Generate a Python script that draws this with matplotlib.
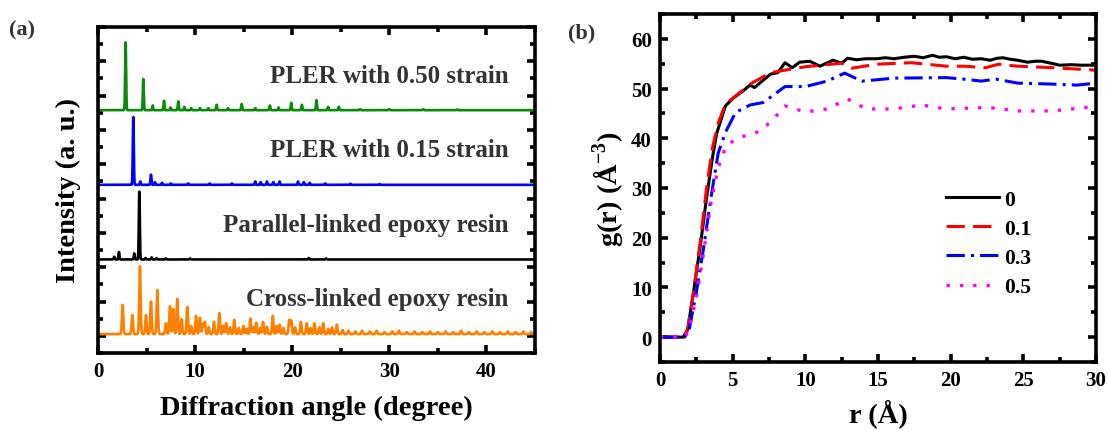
import numpy as np
import matplotlib
matplotlib.use("Agg")
import matplotlib.pyplot as plt
from matplotlib.ticker import MultipleLocator

plt.rcParams['font.family'] = ['Liberation Serif', 'DejaVu Serif']
plt.rcParams['font.weight'] = 'bold'
plt.rcParams['axes.labelweight'] = 'bold'
plt.rcParams['mathtext.fontset'] = 'custom'
plt.rcParams['mathtext.rm'] = 'Liberation Serif:bold'
plt.rcParams['mathtext.bf'] = 'Liberation Serif:bold'

# ---- (a) diffraction peaks: position (degree), relative intensity (max = 100)
green_pos = [2.85, 4.67, 5.63, 6.80, 7.48, 8.27, 8.89, 9.6, 10.5, 11.36, 12.22, 13.4,
             14.8, 16.2, 17.7, 18.6, 19.9, 21.0, 22.5, 23.7, 24.8, 27.0, 30.0, 33.5, 37.0]
green_int = [100, 46, 7, 14, 4, 13, 5, 3, 3, 3, 8, 3,
             9, 3, 7, 4, 11, 8, 15, 5, 5, 1.5, 1.5, 1.5, 1]

blue_pos = [3.64, 4.36, 5.46, 5.87, 6.6, 7.5, 9.3, 11.5, 13.8, 16.2, 16.75, 17.4,
            18.06, 18.7, 20.6, 21.2, 21.8, 23.4, 26.0, 29.0]
blue_int = [100, 5, 15, 4, 3, 2, 2, 2, 2, 5, 4, 5,
            4, 5, 5, 4, 3, 2, 1.5, 1]

black_pos = [1.68, 2.16, 3.74, 4.26, 4.9, 5.53, 6.04, 7.0, 9.5, 21.7, 23.5]
black_int = [4, 11, 9, 100, 2, 3, 2, 1.5, 1.5, 2, 1.5]

orange_pos = [2.54, 3.54, 4.32, 4.94, 5.46, 6.11, 7.0, 7.42, 7.76, 8.17,
              8.62, 9.2, 9.6, 10.1, 10.5, 10.8, 11.0, 11.4, 11.95, 12.5,
              12.9, 13.2, 13.6, 14.04, 14.5, 14.97, 15.3, 15.7, 16.0, 16.3,
              16.7, 17.0, 17.4, 18.0, 18.4, 18.7, 19.1, 19.7, 19.9, 20.3,
              20.9, 21.5, 21.9, 22.3, 22.8, 23.2, 23.7, 24.1, 24.6, 25.2,
              25.8, 26.5, 27.2, 28.0, 28.7, 29.5, 30.3, 31.0, 31.8, 32.6,
              33.4, 34.2, 35.0, 35.8, 36.6, 37.4, 38.2, 39.0, 39.8, 40.6,
              41.4, 42.2, 43.0, 43.8, 44.6]
orange_int = [43, 28, 100, 28, 48, 65, 16, 41, 37, 52,
              22, 40, 12, 27, 24, 15, 18, 10, 18, 31,
              12, 16, 10, 21, 9, 12, 8, 23, 10, 17,
              9, 18, 11, 27, 12, 14, 9, 21, 20, 10,
              18, 16, 9, 16, 10, 16, 8, 10, 14, 6,
              5, 4, 5, 4, 5, 3, 4, 5, 3, 4,
              3, 4, 3, 4, 3, 5, 3, 4, 3, 4,
              3, 4, 3, 4, 3]

xrd_labels = ['Cross-linked epoxy resin', 'Parallel-linked epoxy resin',
              'PLER with 0.15 strain', 'PLER with 0.50 strain']

# ---- (b) g(r) for each strain
strain_labels = ['0', '0.1', '0.3', '0.5']

r0 = [0, 1.6, 1.9, 2.3, 2.8, 3.2, 3.6, 3.9, 4.5, 5.0, 5.7, 6.2, 6.5, 6.9, 7.6, 8.1,
      8.6, 9.1, 9.6, 10.3, 11.0, 11.9, 12.5, 12.9, 13.5, 14.2, 14.9, 15.5, 16.1, 16.8,
      17.5, 18.1, 18.75, 19.2, 19.7, 20.3, 20.9, 21.5, 22.1, 22.7, 23.2, 23.6, 24.1,
      24.6, 25.3, 25.8, 26.25, 26.9, 27.5, 28.3, 29.0, 30.0]
g0 = [0, 0, 1.5, 9, 19, 28, 36, 41, 46.5, 48, 49.5, 50.7, 50.2, 51.2, 52.9, 53.2,
      55.2, 54.2, 55.3, 55.5, 54.5, 55.7, 55.1, 56.1, 55.8, 56.0, 56.0, 56.2, 56.0, 56.3,
      56.5, 56.2, 56.7, 56.3, 56.4, 56.0, 56.3, 55.9, 56.0, 55.7, 56.1, 56.2, 55.9,
      55.7, 55.3, 55.5, 55.5, 55.1, 54.7, 54.8, 54.7, 54.7]

r1 = [0, 1.6, 1.9, 2.3, 2.8, 3.2, 3.6, 4.0, 4.5, 5.2, 6.2, 7.6, 10.0, 12.5, 13.2,
      14.9, 17.3, 19.7, 20.9, 22.4, 23.3, 24.6, 27.0, 30.0]
g1 = [0, 0, 1.5, 9, 20, 30, 38, 43, 46.9, 48.5, 50.9, 53.2, 54.4, 55.1, 54.1,
      54.9, 55.2, 54.5, 54.5, 54.2, 54.9, 54.5, 54.2, 53.7]

r3 = [0, 1.7, 2.0, 2.5, 3.0, 3.5, 4.0, 4.5, 5.2, 6.2, 7.1, 8.6, 10.0, 11.5, 12.7,
      13.9, 16.1, 19.7, 20.9, 22.1, 23.1, 24.6, 27.0, 28.7, 30.0]
g3 = [0, 0, 1.5, 9, 18, 28, 37, 41.2, 45.2, 46.7, 47.2, 50.4, 50.4, 51.5, 53.1,
      51.5, 52.1, 52.2, 51.9, 51.5, 51.9, 51.1, 50.9, 50.7, 51.1]

r5 = [0, 1.7, 2.0, 2.5, 3.0, 3.5, 4.0, 4.5, 5.2, 6.65, 7.6, 8.6, 10.0, 11.5, 12.9,
      14.2, 16.1, 18.0, 19.7, 22.6, 24.6, 27.0, 30.0]
g5 = [0, 0, 1.5, 8, 17, 27, 34, 38.2, 39.9, 41.2, 43.2, 46.5, 45.3, 45.9, 47.9,
      45.9, 45.9, 46.7, 45.9, 46.2, 45.5, 45.5, 46.4]


def profile(x, pos, inten, width):
    # sum of narrow gaussian peaks, normalised to max 1
    y = np.zeros_like(x)
    for p, h in zip(pos, inten):
        y += h * np.exp(-0.5 * ((x - p) / width) ** 2)
    return y / max(inten)


def style_axes(ax):
    for s in ax.spines.values():
        s.set_linewidth(2.6)
    ax.tick_params(which='both', direction='in', top=True, right=True, width=2.6,
                   labelsize=15, pad=6)
    ax.tick_params(which='major', length=6)
    ax.tick_params(which='minor', length=3.5)


fig = plt.figure(figsize=(11.08, 4.31), dpi=100)

# ---- (a)
ax1 = fig.add_axes([0.0884, 0.1787, 0.3944, 0.7564])
xx = np.arange(0, 45.001, 0.01)
series = [(orange_pos, orange_int, '#ff8000', 0.07),
          (black_pos, black_int, 'black', 0.05),
          (blue_pos, blue_int, '#0000ff', 0.05),
          (green_pos, green_int, '#0a8a0a', 0.05)]
offsets = [0.1, 4.45, 8.8, 13.15]
scale = 3.95
for (pos, inten, col, w), off, lab in zip(series, offsets, xrd_labels):
    ax1.plot(xx, off + scale * profile(xx, pos, inten, w), color=col, lw=1.9)
    ax1.text(0.94, off + 2.05, lab, ha='right', va='center', fontsize=18,
             color='#333333', transform=ax1.get_yaxis_transform())
ax1.set_xlim(0, 45)
ax1.set_ylim(-1, 18)
ax1.xaxis.set_major_locator(MultipleLocator(10))
ax1.xaxis.set_minor_locator(MultipleLocator(5))
ax1.yaxis.set_major_locator(MultipleLocator(2))
ax1.yaxis.set_minor_locator(MultipleLocator(1))
style_axes(ax1)
ax1.tick_params(axis='y', labelleft=False)
ax1.set_xlabel('Diffraction angle (degree)', fontsize=20.5, labelpad=10)
ax1.set_ylabel('Intensity (a. u.)', fontsize=20.5, labelpad=6)

# ---- (b)
ax2 = fig.add_axes([0.5957, 0.1578, 0.3935, 0.8074])
ax2.plot(r0, g0, color='black', lw=2.2, ls='-', label=strain_labels[0])
ax2.plot(r1, g1, color='#ff0000', lw=2.2, ls=(0, (6, 2.7)), label=strain_labels[1])
ax2.plot(r3, g3, color='#0000ff', lw=2.2, ls=(0, (6, 2, 1, 2)), label=strain_labels[2])
ax2.plot(r5, g5, color='#ff00ff', lw=2.4, ls=(0, (1, 3)), label=strain_labels[3])
ax2.set_xlim(0, 30)
ax2.set_ylim(-5, 65)
ax2.xaxis.set_major_locator(MultipleLocator(5))
ax2.xaxis.set_minor_locator(MultipleLocator(2.5))
ax2.yaxis.set_major_locator(MultipleLocator(10))
ax2.yaxis.set_minor_locator(MultipleLocator(5))
style_axes(ax2)
ax2.set_xlabel('r (Å)', fontsize=20.5, labelpad=6)
ax2.set_ylabel(r'g(r) (Å$^{-3}$)', fontsize=20.5, labelpad=3)
ax2.legend(loc='upper left', bbox_to_anchor=(0.635, 0.52), frameon=False,
           fontsize=15.5, handlelength=2.5, handletextpad=0.2, labelspacing=0.42,
           borderaxespad=0)

fig.text(0.008, 0.93, '(a)', fontsize=16, color='#333333', va='center')
fig.text(0.513, 0.922, '(b)', fontsize=16, color='#333333', va='center')

fig.savefig('out.png', dpi=100)
